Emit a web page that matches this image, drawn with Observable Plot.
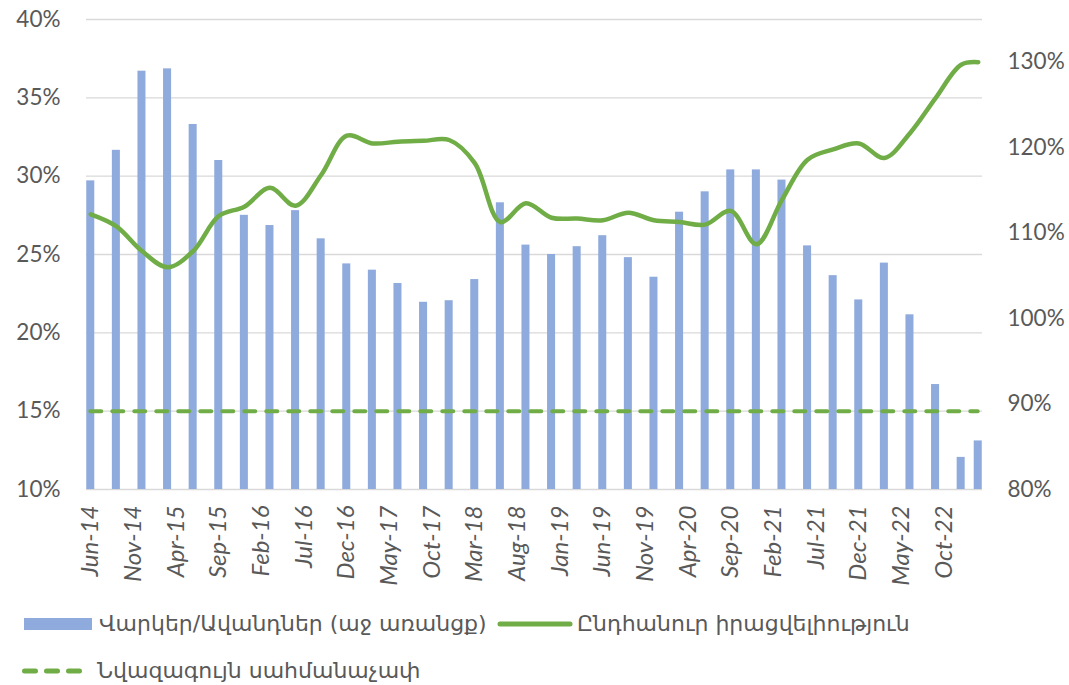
<!DOCTYPE html>
<html><head><meta charset="utf-8">
<script src="https://cdn.jsdelivr.net/npm/d3@7"></script>
<script src="https://cdn.jsdelivr.net/npm/@observablehq/plot@0.6"></script>
<style>
body{margin:0;background:#fff;}
#wrap{position:relative;width:1069px;height:685px;overflow:hidden;}
#chart svg{display:block;}
.lg{position:absolute;height:30px;line-height:30px;font-family:"DejaVu Sans",sans-serif;font-size:22px;color:#595959;white-space:nowrap;}
.sw{position:absolute;display:block;}
g[aria-label="x-axis tick label"] text{font-style:italic;}
</style></head><body>
<div id="wrap">
<div id="chart"></div>
</div>
<script>
// quarterly observation months (yyyy-mm)
const periods = ["2014-06","2014-09","2014-12","2015-03","2015-06","2015-09","2015-12","2016-03","2016-06","2016-09","2016-12","2017-03","2017-06","2017-09","2017-12","2018-03","2018-06","2018-09","2018-12","2019-03","2019-06","2019-09","2019-12","2020-03","2020-06","2020-09","2020-12","2021-03","2021-06","2021-09","2021-12","2022-03","2022-06","2022-09","2022-12","2023-02"];
// Loans / deposits, % (left axis)
const loanDeposit = [29.7,31.65,36.7,36.85,33.3,31.0,27.5,26.85,27.8,26.0,24.4,24.0,23.15,21.95,22.05,23.4,28.3,25.6,25.0,25.5,26.2,24.8,23.55,27.7,29.0,30.4,30.4,29.75,25.55,23.65,22.1,24.45,21.15,16.7,12.05,13.1];
// Total liquidity, % (right axis)
const liquidity = [112.2,110.8,107.9,106.0,107.9,112.0,113.1,115.3,113.2,116.8,121.4,120.5,120.7,120.8,120.9,118.2,111.3,113.5,111.8,111.7,111.5,112.4,111.5,111.3,111.0,112.6,108.7,113.9,118.6,119.8,120.5,118.8,121.7,125.8,129.7,130.0];
// Minimum threshold, % (left axis)
const threshold = 15;
const tickLabels = ["Jun-14","Nov-14","Apr-15","Sep-15","Feb-16","Jul-16","Dec-16","May-17","Oct-17","Mar-18","Aug-18","Jan-19","Jun-19","Nov-19","Apr-20","Sep-20","Feb-21","Jul-21","Dec-21","May-22","Oct-22"];
const leftTicks = [10,15,20,25,30,35,40];
const rightTicks = [80,90,100,110,120,130];
const legendLabels = ["Վարկեր/Ավանդներ (աջ առանցք)","Ընդհանուր իրացվելիություն","Նվազագույն սահմանաչափ"];

const firstMonth = {y:2014, m:6};
const idxOf = (y, m) => (y - firstMonth.y) * 12 + (m - firstMonth.m);
const pIdx = periods.map(p => { const [y, m] = p.split("-").map(Number); return idxOf(y, m); });
const parseTick = d3.utcParse("%b-%y");
const tickPos = tickLabels.map(t => { const d = parseTick(t); return idxOf(d.getUTCFullYear(), d.getUTCMonth() + 1); });
const lastIdx = pIdx[pIdx.length - 1];

const rMin = 80, rMax = 135, lMin = 10, lMax = 40;
const toLeft = v => lMin + (v - rMin) * (lMax - lMin) / (rMax - rMin);
const fromLeft = v => rMin + (v - lMin) * (rMax - rMin) / (lMax - lMin);

const bars = periods.map((p, k) => ({i: pIdx[k], v: loanDeposit[k]}));
const liq = periods.map((p, k) => ({i: pIdx[k], v: liquidity[k]}));

const green = "#70AD47", blue = "#8FAADC";
const font = "Lato, 'DejaVu Sans', sans-serif";

const chart = Plot.plot({
  width: 1069, height: 590,
  marginLeft: 86, marginRight: 87, marginTop: 19, marginBottom: 101,
  style: {fontFamily: font, fontSize: "22px", color: "#595959", background: "transparent"},
  x: {domain: [-0.5, lastIdx + 0.5]},
  y: {domain: [lMin, lMax]},
  marks: [
    Plot.ruleY(leftTicks, {stroke: "#d9d9d9", strokeWidth: 1.3}),
    Plot.rectY(bars, {x1: d => d.i - 0.47, x2: d => d.i + 0.47, y1: lMin, y2: "v", fill: blue}),
    Plot.ruleY([threshold], {x1: pIdx[0], x2: lastIdx, stroke: green, strokeWidth: 4, strokeDasharray: "11,11", strokeLinecap: "round"}),
    Plot.line(liq, {x: "i", y: d => toLeft(d.v), curve: "catmull-rom", stroke: green, strokeWidth: 4.5, strokeLinecap: "round", strokeLinejoin: "round"}),
    Plot.axisY(leftTicks, {anchor: "left", tickSize: 0, tickPadding: 26, fontSize: 22.5, tickFormat: d => d + "%", label: null}),
    Plot.axisY(rightTicks.map(toLeft), {anchor: "right", tickSize: 0, tickPadding: 25, fontSize: 22.5, tickFormat: d => Math.round(fromLeft(d)) + "%", label: null}),
    Plot.axisX(tickPos, {anchor: "bottom", tickRotate: -90, tickSize: 0, tickPadding: 16, fontSize: 24, fontStyle: "italic", tickFormat: d => tickLabels[tickPos.indexOf(d)], label: null})
  ]
});
document.getElementById("chart").appendChild(chart);

const wrap = document.getElementById("wrap");
function addSwatch(x, y, w, h, inner) {
  const s = document.createElementNS("http://www.w3.org/2000/svg", "svg");
  s.setAttribute("class", "sw");
  s.setAttribute("width", w); s.setAttribute("height", h);
  s.style.left = x + "px"; s.style.top = (y - h / 2) + "px";
  s.innerHTML = inner;
  wrap.appendChild(s);
}
function addText(x, y, text) {
  const div = document.createElement("div");
  div.className = "lg";
  div.style.left = x + "px";
  div.style.top = (y - 15) + "px";
  div.textContent = text;
  wrap.appendChild(div);
}
addSwatch(24, 624, 68, 12, `<rect x="0" y="0" width="68" height="12" fill="${blue}"/>`);
addText(99, 624, legendLabels[0]);
addSwatch(497, 624, 76, 10, `<line x1="3" x2="73" y1="5" y2="5" stroke="${green}" stroke-width="5" stroke-linecap="round"/>`);
addText(577, 624, legendLabels[1]);
addSwatch(20, 671, 76, 10, `<line x1="4.5" x2="70.5" y1="5" y2="5" stroke="${green}" stroke-width="5" stroke-dasharray="11,11" stroke-linecap="round"/>`);
addText(97, 671, legendLabels[2]);
</script>
</body></html>
